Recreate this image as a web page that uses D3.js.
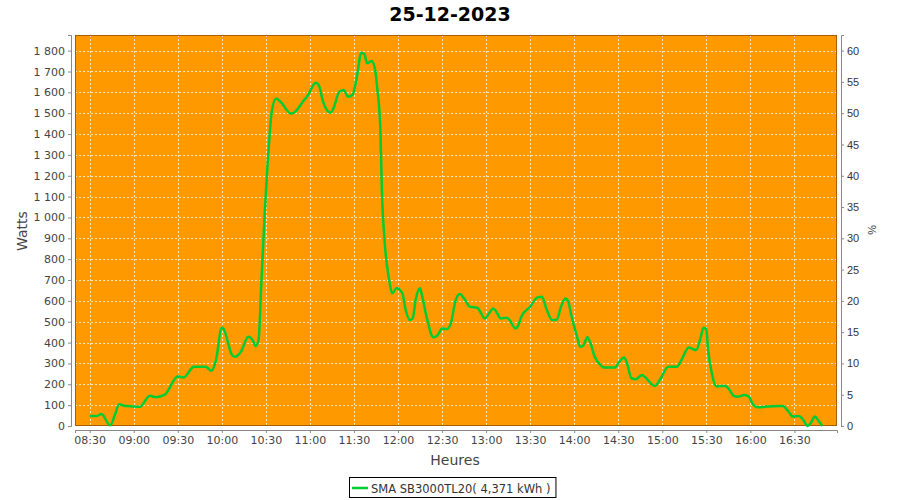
<!DOCTYPE html>
<html>
<head>
<meta charset="utf-8">
<script src="https://cdn.jsdelivr.net/npm/d3@7/dist/d3.min.js"></script>
<style>
html,body{margin:0;padding:0;background:#fff;}
svg{display:block;}
</style>
</head>
<body>
<svg id="chart" width="900" height="500"></svg>
<script>
const title = "25-12-2023";
const seriesName = "SMA SB3000TL20( 4,371 kWh )";
const times = ["08:30","08:35","08:38","08:44","08:47","08:50","08:54","08:58","09:04","09:11","09:15","09:21","09:30","09:34","09:41","09:49","09:53","09:56","10:00","10:01","10:07","10:09","10:13","10:18","10:21","10:23","10:25","10:27","10:29","10:32","10:34","10:37","10:40","10:47","10:49","10:56","10:58","11:04","11:06","11:09","11:14","11:16","11:20","11:23","11:26","11:29","11:32","11:35","11:37","11:39","11:42","11:44","11:46","11:48","11:49","11:51","11:54","11:56","11:59","12:03","12:05","12:08","12:10","12:12","12:15","12:16","12:20","12:24","12:27","12:30","12:33","12:36","12:39","12:42","12:45","12:49","12:54","12:56","12:59","13:05","13:07","13:10","13:14","13:16","13:20","13:22","13:24","13:30","13:35","13:38","13:41","13:45","13:48","13:51","13:54","13:56","13:58","14:02","14:04","14:06","14:09","14:11","14:14","14:18","14:20","14:28","14:30","14:34","14:36","14:39","14:42","14:46","14:48","14:55","14:59","15:04","15:10","15:13","15:18","15:21","15:23","15:26","15:28","15:30","15:31","15:34","15:37","15:39","15:43","15:45","15:48","15:51","15:56","15:59","16:02","16:05","16:11","16:20","16:22","16:26","16:29","16:33","16:36","16:39","16:41","16:44","16:46","16:49"];
const watts = [48,48,57,3,50,104,96,95,91,145,138,149,237,233,284,284,265,316,471,468,340,332,356,428,412,384,412,700,988,1339,1507,1571,1555,1499,1502,1563,1579,1646,1635,1555,1502,1523,1603,1611,1579,1587,1675,1790,1784,1739,1750,1723,1611,1419,1132,876,700,636,660,636,564,508,516,604,660,636,508,425,436,468,464,492,596,633,612,572,567,548,516,564,548,516,519,508,468,484,524,572,617,620,564,508,508,572,612,596,532,428,380,384,425,399,332,292,281,281,301,329,300,229,224,245,236,192,229,284,284,316,377,368,364,420,471,464,380,245,189,192,192,181,149,140,149,140,101,90,93,96,96,69,45,48,29,0,13,45,29,0];
const xTicks = ["08:30","09:00","09:30","10:00","10:30","11:00","11:30","12:00","12:30","13:00","13:30","14:00","14:30","15:00","15:30","16:00","16:30"];
const wattTicks = [0,100,200,300,400,500,600,700,800,900,1000,1100,1200,1300,1400,1500,1600,1700,1800];
const pctTicks = [0,5,10,15,20,25,30,35,40,45,50,55,60];
const xDomain = ["08:20","16:59"];
const wattMax = 1875;
const pctMax = 62.5;

const parseT = s => { const [h,m] = s.split(":").map(Number); return new Date(2023,11,25,h,m); };
const data = times.map((t,i) => ({t: parseT(t), v: watts[i]}));

const svg = d3.select("#chart");
const L = 75, R = 837, T = 35, B = 426;
const x = d3.scaleTime().domain(xDomain.map(parseT)).range([L, R]);
const y = d3.scaleLinear().domain([0, wattMax]).range([B, T]);
const y2 = d3.scaleLinear().domain([0, pctMax]).range([B, T]);

const loc = d3.formatLocale({decimal: ",", thousands: " ", grouping: [3], currency: ["", ""]});
const fmtW = loc.format(",d");
const fmtT = d3.timeFormat("%H:%M");

// title
svg.append("text").attr("x", 450).attr("y", 21).attr("text-anchor", "middle")
  .attr("font-family", "DejaVu Sans").attr("font-weight", "bold").attr("font-size", 19)
  .attr("fill", "#000").text(title);

// plot background
svg.append("rect").attr("x", L).attr("y", T).attr("width", R - L).attr("height", B - T)
  .attr("fill", "#ff9900");

// grid
const grid = svg.append("g").attr("stroke", "#ffffff").attr("stroke-opacity", 0.75)
  .attr("stroke-width", 1).attr("stroke-dasharray", "2,2").attr("shape-rendering", "crispEdges");
wattTicks.forEach(v => grid.append("line").attr("x1", L).attr("x2", R)
  .attr("y1", Math.round(y(v)) + 0.5).attr("y2", Math.round(y(v)) + 0.5));
xTicks.forEach(s => grid.append("line").attr("y1", T).attr("y2", B)
  .attr("x1", Math.round(x(parseT(s))) + 0.5).attr("x2", Math.round(x(parseT(s))) + 0.5));

// plot outline
svg.append("rect").attr("x", L + 0.5).attr("y", T + 0.5).attr("width", R - L - 1).attr("height", B - T - 1)
  .attr("fill", "none").attr("stroke", "#a85c00").attr("stroke-width", 1);

// line
const line = d3.line().x(d => x(d.t)).y(d => y(d.v)).curve(d3.curveMonotoneX);
svg.append("path").datum(data).attr("d", line).attr("fill", "none")
  .attr("stroke", "#00cc33").attr("stroke-width", 2.5).attr("stroke-linejoin", "round");

// axes
const axisColor = "#888888";
const gx = svg.append("g").attr("transform", `translate(0,${B + 4})`)
  .call(d3.axisBottom(x).tickValues(xTicks.map(parseT)).tickFormat(fmtT).tickSizeOuter(0).tickSize(3).tickPadding(3));
const gy = svg.append("g").attr("transform", `translate(${L - 4},0)`)
  .call(d3.axisLeft(y).tickValues(wattTicks).tickFormat(fmtW).tickSizeOuter(0).tickSize(3).tickPadding(3));
const gy2 = svg.append("g").attr("transform", `translate(${R + 4},0)`)
  .call(d3.axisRight(y2).tickValues(pctTicks).tickFormat(d3.format("d")).tickSizeOuter(0).tickSize(3).tickPadding(3));
[gx, gy, gy2].forEach(g => {
  g.select(".domain").attr("stroke", axisColor);
  g.selectAll(".tick line").attr("stroke", axisColor);
});
gx.selectAll("text").attr("font-family", "DejaVu Sans").attr("font-size", 11).attr("fill", "#444");
gy.selectAll("text").attr("font-family", "DejaVu Sans").attr("font-size", 11).attr("fill", "#444");
gy2.selectAll("text").attr("font-family", "Liberation Sans").attr("font-size", 11).attr("fill", "#333");

// axis titles
svg.append("text").attr("transform", "translate(27,231) rotate(-90)").attr("text-anchor", "middle")
  .attr("font-family", "DejaVu Sans").attr("font-size", 14).attr("fill", "#444").text("Watts");
svg.append("text").attr("x", 455).attr("y", 465).attr("text-anchor", "middle")
  .attr("font-family", "DejaVu Sans").attr("font-size", 14).attr("fill", "#444").text("Heures");
svg.append("text").attr("transform", "translate(868,230) rotate(90)").attr("text-anchor", "middle")
  .attr("font-family", "Liberation Sans").attr("font-size", 11).attr("fill", "#333").text("%");

// legend
const lg = svg.append("g");
const lt = lg.append("text").attr("x", 371).attr("y", 492.5)
  .attr("font-family", "DejaVu Sans").attr("font-size", 11.5).attr("fill", "#333").text(seriesName);
const tw = lt.node().getComputedTextLength();
lg.insert("rect", "text").attr("x", 349.5).attr("y", 477.5).attr("width", tw + 371 - 349 + 5).attr("height", 20)
  .attr("fill", "#fff").attr("stroke", "#000").attr("stroke-width", 1);
lg.append("line").attr("x1", 352).attr("x2", 368).attr("y1", 488).attr("y2", 488)
  .attr("stroke", "#00cc33").attr("stroke-width", 2.5);
</script>
</body>
</html>
